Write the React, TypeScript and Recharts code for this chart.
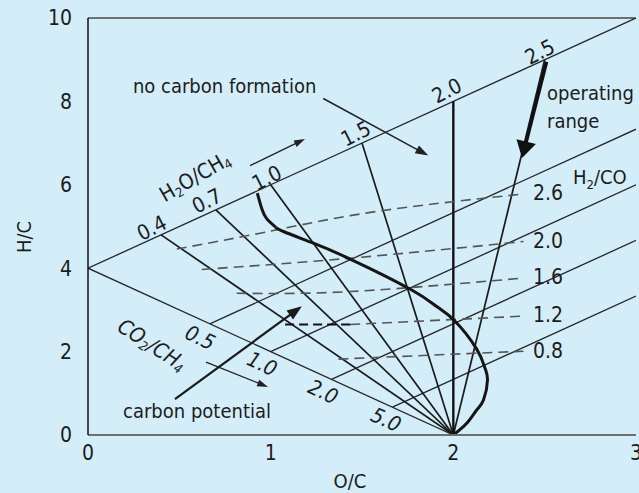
import React from 'react';
import { ComposedChart, Line, XAxis, YAxis, ReferenceLine, ReferenceDot } from 'recharts';

const W = 639;
const H = 493;
const FONT = '"Liberation Sans Narrow", "DejaVu Sans Condensed", "Open Sans", sans-serif';
const BG = '#d3edf9';
const INK = '#1c1c1c';

const xTicks = [0, 1, 2, 3];
const yTicks = [0, 2, 4, 6, 8, 10];

// pure CH4 point, and end of the H2O/CH4 line
const ch4Point = { x: 0, y: 4 };
const h2oLineEnd = { x: 3, y: 10 };
const pivot = { x: 2, y: 0 };

// points on H2O/CH4 line
const h2oPoints = [
  { x: 0.4, y: 4.8 },
  { x: 0.7, y: 5.4 },
  { x: 1.0, y: 6.0 },
  { x: 1.5, y: 7.0 },
  { x: 2.0, y: 8.0 },
  { x: 2.5, y: 9.0 },
];
const h2oLabels = [
  { x: 0.35, y: 4.96, t: '0.4' },
  { x: 0.651, y: 5.61, t: '0.7' },
  { x: 0.98, y: 6.16, t: '1.0' },
  { x: 1.467, y: 7.22, t: '1.5' },
  { x: 1.965, y: 8.25, t: '2.0' },
  { x: 2.474, y: 9.18, t: '2.5' },
];

// points on CO2/CH4 line and the parallel lines starting from them
const co2Points = [
  { x: 0.667, y: 2.667 },
  { x: 1.0, y: 2.0 },
  { x: 1.333, y: 1.333 },
  { x: 1.667, y: 0.667 },
];
const co2LineEnds = [
  { x: 3, y: 7.333 },
  { x: 3, y: 6.0 },
  { x: 3, y: 4.667 },
  { x: 3, y: 3.333 },
];
const co2Labels = [
  { x: 0.613, y: 2.33, t: '0.5' },
  { x: 0.953, y: 1.7, t: '1.0' },
  { x: 1.287, y: 1.03, t: '2.0' },
  { x: 1.631, y: 0.36, t: '5.0' },
];

// carbon limit curve
const carbonCurveTop = [
  { x: 0.927, y: 5.8 },
  { x: 0.951, y: 5.43 },
  { x: 0.978, y: 5.19 },
  { x: 1.029, y: 4.98 },
];
const carbonCurve = [
  { x: 1.029, y: 4.98 },
  { x: 1.07, y: 4.88 },
  { x: 1.234, y: 4.6 },
  { x: 1.435, y: 4.22 },
  { x: 1.763, y: 3.5 },
  { x: 1.909, y: 3.08 },
  { x: 2.007, y: 2.74 },
  { x: 2.128, y: 2.06 },
  { x: 2.172, y: 1.62 },
  { x: 2.187, y: 1.32 },
  { x: 2.165, y: 0.84 },
  { x: 2.128, y: 0.6 },
  { x: 2.073, y: 0.28 },
  { x: 2.0, y: 0.0 },
];

// H2/CO dashed lines
const h2co26 = [
  { x: 0.486, y: 4.46 },
  { x: 0.942, y: 4.84 },
  { x: 1.435, y: 5.26 },
  { x: 1.928, y: 5.56 },
  { x: 2.384, y: 5.78 },
];
const h2co20 = [
  { x: 0.623, y: 3.97 },
  { x: 1.435, y: 4.24 },
  { x: 2.384, y: 4.64 },
];
const h2co16 = [
  { x: 0.814, y: 3.4 },
  { x: 1.435, y: 3.44 },
  { x: 2.375, y: 3.76 },
];
const h2co12Bold = [
  { x: 1.079, y: 2.65 },
  { x: 1.435, y: 2.65 },
];
const h2co12 = [
  { x: 1.435, y: 2.65 },
  { x: 2.384, y: 2.85 },
];
const h2co08 = [
  { x: 1.371, y: 1.82 },
  { x: 2.384, y: 2.01 },
];
const h2coLabels = [
  { x: 2.436, y: 5.8, t: '2.6' },
  { x: 2.436, y: 4.65, t: '2.0' },
  { x: 2.436, y: 3.79, t: '1.6' },
  { x: 2.436, y: 2.88, t: '1.2' },
  { x: 2.436, y: 2.01, t: '0.8' },
];

// arrows [from, to]
const arrowH2O = [{ x: 0.887, y: 6.46 }, { x: 1.188, y: 7.1 }];
const arrowNoCarbon = [{ x: 1.288, y: 8.07 }, { x: 1.863, y: 6.7 }];
const arrowCO2 = [{ x: 0.646, y: 1.75 }, { x: 0.986, y: 1.15 }];
const arrowPotential = [{ x: 0.476, y: 0.86 }, { x: 1.171, y: 3.09 }];
const arrowOperating = [{ x: 2.51, y: 8.95 }, { x: 2.376, y: 6.64 }];

const makeArrow = (sw: number, hl: number, hw: number, color: string) => (props: any) => {
  const { x1, y1, x2, y2 } = props;
  const dx = x2 - x1;
  const dy = y2 - y1;
  const len = Math.hypot(dx, dy) || 1;
  const ux = dx / len;
  const uy = dy / len;
  const bx = x2 - ux * hl;
  const by = y2 - uy * hl;
  const px = -uy;
  const py = ux;
  return (
    <g>
      <line x1={x1} y1={y1} x2={bx + ux * 2} y2={by + uy * 2} stroke={color} strokeWidth={sw} />
      <polygon
        points={`${x2},${y2} ${bx + (px * hw) / 2},${by + (py * hw) / 2} ${bx - (px * hw) / 2},${by - (py * hw) / 2}`}
        fill={color}
      />
    </g>
  );
};

type TxtOpts = {
  angle?: number;
  size?: number;
  anchor?: 'start' | 'middle' | 'end';
  italic?: boolean;
  central?: boolean;
};

const makeText = (content: React.ReactNode, o: TxtOpts = {}) => (p: any) => {
  const { cx, cy } = p;
  const angle = o.angle || 0;
  return (
    <text
      x={cx}
      y={cy}
      fill={INK}
      fontFamily={FONT}
      fontSize={o.size || 20}
      fontStyle={o.italic ? 'italic' : 'normal'}
      textAnchor={o.anchor || 'middle'}
      dominantBaseline={o.central ? 'central' : 'alphabetic'}
      transform={angle ? `rotate(${angle} ${cx} ${cy})` : undefined}
    >
      {content}
    </text>
  );
};

const sub = (s: string, size = 13) => (
  <tspan dy={5} fontSize={size}>
    {s}
  </tspan>
);

const h2oTitle = (
  <>
    <tspan>H</tspan>
    {sub('2')}
    <tspan dy={-5}>O/CH</tspan>
    {sub('4')}
  </>
);
const co2Title = (
  <>
    <tspan>CO</tspan>
    {sub('2')}
    <tspan dy={-5}>/CH</tspan>
    {sub('4')}
  </>
);
const h2coTitle = (
  <>
    <tspan>H</tspan>
    {sub('2')}
    <tspan dy={-5}>/CO</tspan>
  </>
);

const thinLines: { x: number; y: number }[][] = [
  [ch4Point, h2oLineEnd],
  [ch4Point, pivot],
  ...co2Points.map((p, i) => [p, co2LineEnds[i]]),
];
const fanLines: { x: number; y: number }[][] = h2oPoints
  .filter((p) => p.x !== 2)
  .map((p) => [pivot, p]);
const verticalLine = [pivot, h2oPoints[4]];

export default function App() {
  return (
    <div style={{ width: W, height: H, background: BG, overflow: 'hidden' }}>
      <style>{`body{margin:0;background:${BG};}`}</style>
      <ComposedChart width={W} height={H} margin={{ top: 18, right: 3, bottom: 0, left: 0 }}>
        <XAxis
          type="number"
          dataKey="x"
          domain={[0, 3]}
          ticks={xTicks}
          interval={0}
          allowDataOverflow
          tickLine={false}
          tickSize={0}
          tickMargin={10}
          height={58}
          axisLine={{ stroke: '#6f6f6f', strokeWidth: 2 }}
          tick={{ fill: INK, fontSize: 21, fontFamily: FONT }}
        />
        <YAxis
          type="number"
          dataKey="y"
          domain={[0, 10]}
          ticks={yTicks}
          interval={0}
          allowDataOverflow
          tickLine={false}
          tickSize={0}
          tickMargin={16}
          width={88}
          axisLine={{ stroke: '#111', strokeWidth: 1.5 }}
          tick={{ fill: INK, fontSize: 21, fontFamily: FONT }}
        />
        <ReferenceLine y={10} stroke="#6f6f6f" strokeWidth={2} />

        {thinLines.map((pts, i) => (
          <Line
            key={`thin${i}`}
            data={pts}
            dataKey="y"
            stroke="#262626"
            strokeWidth={1.3}
            dot={false}
            activeDot={false}
            isAnimationActive={false}
          />
        ))}
        {fanLines.map((pts, i) => (
          <Line
            key={`fan${i}`}
            data={pts}
            dataKey="y"
            stroke="#1a1a1a"
            strokeWidth={1.7}
            dot={false}
            activeDot={false}
            isAnimationActive={false}
          />
        ))}
        <Line data={verticalLine} dataKey="y" stroke="#111" strokeWidth={2.4} dot={false} activeDot={false} isAnimationActive={false} />

        {[h2co26, h2co20, h2co16, h2co12, h2co08].map((pts, i) => (
          <Line
            key={`dash${i}`}
            data={pts}
            dataKey="y"
            type="natural"
            stroke="#555"
            strokeWidth={1.6}
            strokeDasharray="10 6"
            dot={false}
            activeDot={false}
            isAnimationActive={false}
          />
        ))}
        <Line data={h2co12Bold} dataKey="y" stroke="#111" strokeWidth={2} strokeDasharray="9 5" dot={false} activeDot={false} isAnimationActive={false} />

        <Line data={carbonCurveTop} dataKey="y" type="natural" stroke="#151515" strokeWidth={3} dot={false} activeDot={false} isAnimationActive={false} />
        <Line data={carbonCurve} dataKey="y" type="natural" stroke="#151515" strokeWidth={3} dot={false} activeDot={false} isAnimationActive={false} />

        <ReferenceLine segment={arrowH2O} shape={makeArrow(1.3, 11, 7, '#222')} ifOverflow="visible" />
        <ReferenceLine segment={arrowNoCarbon} shape={makeArrow(1.5, 13, 9, '#222')} ifOverflow="visible" />
        <ReferenceLine segment={arrowCO2} shape={makeArrow(1.3, 11, 7, '#222')} ifOverflow="visible" />
        <ReferenceLine segment={arrowPotential} shape={makeArrow(2.2, 15, 11, '#1a1a1a')} ifOverflow="visible" />
        <ReferenceLine segment={arrowOperating} shape={makeArrow(3.6, 17, 20, '#111')} ifOverflow="visible" />

        {h2oLabels.map((l) => (
          <ReferenceDot key={`hl${l.t}`} x={l.x} y={l.y} r={0} ifOverflow="visible" shape={makeText(l.t, { angle: -27, size: 21, central: true })} />
        ))}
        {co2Labels.map((l) => (
          <ReferenceDot key={`cl${l.t}`} x={l.x} y={l.y} r={0} ifOverflow="visible" shape={makeText(l.t, { angle: 25, size: 21, central: true, italic: true })} />
        ))}
        {h2coLabels.map((l) => (
          <ReferenceDot key={`dl${l.t}`} x={l.x} y={l.y} r={0} ifOverflow="visible" shape={makeText(l.t, { size: 21, central: true, anchor: 'start' })} />
        ))}

        <ReferenceDot x={0.586} y={6.19} r={0} ifOverflow="visible" shape={makeText(h2oTitle, { angle: -30, size: 21, central: true })} />
        <ReferenceDot x={0.35} y={2.16} r={0} ifOverflow="visible" shape={makeText(co2Title, { angle: 33, size: 21, central: true, italic: true })} />
        <ReferenceDot x={2.655} y={6.03} r={0} ifOverflow="visible" shape={makeText(h2coTitle, { size: 20, anchor: 'start' })} />
        <ReferenceDot x={0.246} y={8.21} r={0} ifOverflow="visible" shape={makeText('no carbon formation', { size: 20, anchor: 'start' })} />
        <ReferenceDot x={2.513} y={8.03} r={0} ifOverflow="visible" shape={makeText('operating', { size: 20, anchor: 'start' })} />
        <ReferenceDot x={2.513} y={7.36} r={0} ifOverflow="visible" shape={makeText('range', { size: 20, anchor: 'start' })} />
        <ReferenceDot x={0.192} y={0.41} r={0} ifOverflow="visible" shape={makeText('carbon potential', { size: 20, anchor: 'start' })} />

        <ReferenceDot x={-0.35} y={4.75} r={0} ifOverflow="visible" shape={makeText('H/C', { angle: -90, size: 20, central: true })} />
        <ReferenceDot x={1.434} y={-1.1} r={0} ifOverflow="visible" shape={makeText('O/C', { size: 20, central: true })} />
      </ComposedChart>
    </div>
  );
}
